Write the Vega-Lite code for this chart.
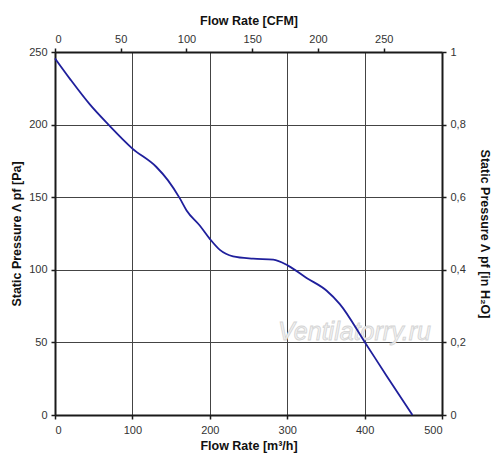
{
  "$schema": "https://vega.github.io/schema/vega-lite/v6.json",
  "autosize": "none",
  "width": 387,
  "height": 363,
  "padding": {"left": 55, "top": 52, "right": 58, "bottom": 58},
  "background": "#ffffff",
  "config": {
    "font": "Liberation Sans",
    "view": {"stroke": null},
    "axis": {
      "domainColor": "#1a1a1a",
      "domainWidth": 2,
      "tickColor": "#1a1a1a",
      "tickSize": 4,
      "tickWidth": 1.5,
      "labelFont": "Liberation Sans",
      "labelFontSize": 11,
      "labelColor": "#333333",
      "titleFont": "Liberation Sans",
      "titleFontSize": 12.5,
      "titleFontWeight": "bold",
      "titleColor": "#111111",
      "gridColor": "#444444",
      "gridWidth": 1,
      "gridOpacity": 1
    }
  },
  "datasets": {
    "curve": [
      {"flow": 0, "pressure": 245.6},
      {"flow": 20, "pressure": 231},
      {"flow": 45, "pressure": 213.9},
      {"flow": 69, "pressure": 200},
      {"flow": 100, "pressure": 183.5},
      {"flow": 131, "pressure": 170.8},
      {"flow": 146, "pressure": 161.6},
      {"flow": 161.5, "pressure": 149},
      {"flow": 170, "pressure": 140.9},
      {"flow": 187, "pressure": 130.5},
      {"flow": 200, "pressure": 121.3},
      {"flow": 213, "pressure": 113.7},
      {"flow": 230, "pressure": 109.3},
      {"flow": 256, "pressure": 107.7},
      {"flow": 282, "pressure": 107},
      {"flow": 301, "pressure": 102.9},
      {"flow": 325, "pressure": 94.4},
      {"flow": 351, "pressure": 85.6},
      {"flow": 368, "pressure": 76.4},
      {"flow": 400.5, "pressure": 50},
      {"flow": 428.5, "pressure": 26.9},
      {"flow": 461.8, "pressure": 0}
    ],
    "mark": [{"flow": 387, "pressure": 57, "label": "Ventilatorry.ru"}],
    "imperial": [
      {"cfm": 0, "inh2o": 0},
      {"cfm": 294.3, "inh2o": 1}
    ]
  },
  "layer": [
    {
      "layer": [
        {
          "data": {"name": "mark"},
          "mark": {
            "type": "text",
            "font": "Liberation Sans",
            "fontStyle": "italic",
            "fontSize": 25,
            "color": "#f2f2f2",
            "stroke": "#d4d4d4",
            "strokeWidth": 0.8
          },
          "encoding": {
            "x": {"field": "flow", "type": "quantitative"},
            "y": {"field": "pressure", "type": "quantitative"},
            "text": {"field": "label"}
          }
        },
        {
          "data": {"name": "curve"},
          "mark": {"type": "line", "color": "#1f1f9c", "strokeWidth": 1.8, "interpolate": "monotone"},
          "encoding": {
            "x": {
              "field": "flow",
              "type": "quantitative",
              "scale": {"domain": [0, 500], "nice": false, "zero": true},
              "axis": {
                "orient": "bottom",
                "values": [0, 100, 200, 300, 400, 500],
                "title": "Flow Rate [m³/h]",
                "labelPadding": 5,
                "titlePadding": 4,
                "grid": true
              }
            },
            "y": {
              "field": "pressure",
              "type": "quantitative",
              "scale": {"domain": [0, 250], "nice": false},
              "axis": {
                "orient": "left",
                "values": [0, 50, 100, 150, 200, 250],
                "title": "Static Pressure Λ pf [Pa]",
                "labelPadding": 4,
                "titlePadding": 5,
                "grid": true
              }
            }
          }
        }
      ]
    },
    {
      "data": {"name": "imperial"},
      "mark": {"type": "point", "opacity": 0},
      "encoding": {
        "x": {
          "field": "cfm",
          "type": "quantitative",
          "scale": {"domain": [0, 294.3], "nice": false},
          "axis": {
            "orient": "top",
            "values": [0, 50, 100, 150, 200, 250],
            "title": "Flow Rate [CFM]",
            "labelPadding": 4,
            "titlePadding": 6,
            "grid": false
          }
        },
        "y": {
          "field": "inh2o",
          "type": "quantitative",
          "scale": {"domain": [0, 1], "nice": false},
          "axis": {
            "orient": "right",
            "values": [0, 0.2, 0.4, 0.6, 0.8, 1],
            "labelExpr": "replace(toString(datum.value), '.', ',')",
            "title": "Static Pressure Λ pf [in H₂O]",
            "labelPadding": 4,
            "titlePadding": 12,
            "grid": false
          }
        }
      }
    }
  ],
  "resolve": {"scale": {"x": "independent", "y": "independent"}}
}
